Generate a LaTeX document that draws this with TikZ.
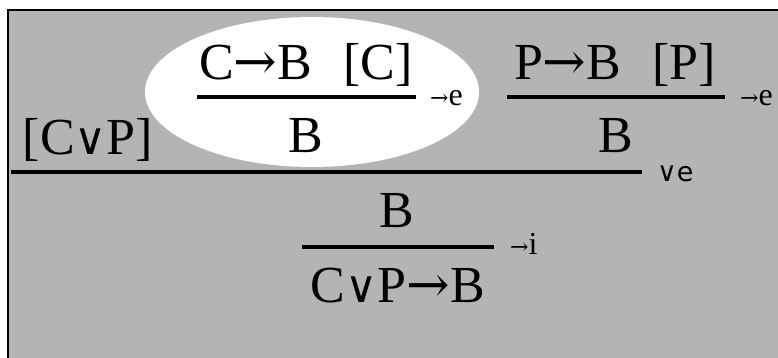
\documentclass[tikz,border=0pt]{standalone}
\usepackage{fontspec}
\setmainfont{Liberation Serif}
\newfontfamily\symf{DejaVu Serif}
\newfontfamily\labf{DejaVu Sans}
\definecolor{bggray}{RGB}{180,180,180}
\newcommand{\Or}{{\symf\fontsize{44}{46}\selectfont ∨}}
\newcommand{\LA}{{\symf\fontsize{22}{24}\selectfont →}}
\tikzset{
  formula/.style={inner sep=0pt, anchor=base, font=\fontsize{52}{56}\selectfont},
  rulelab/.style={inner sep=0pt, anchor=base west, font=\fontsize{32}{34}\selectfont},
  infrule/.style={line width=4.5pt}
}
\begin{document}
\begin{tikzpicture}[x=1pt,y=-1pt]
\useasboundingbox (0,0) rectangle (778,358);
\fill[white] (0,0) rectangle (778,358);
\fill[bggray] (8,10) rectangle (790,370);
\draw[line width=2pt] (8,370) -- (8,10) -- (790,10);
\fill[white] (312,92) ellipse [x radius=167, y radius=75];
% left subproof
\node[formula] (cb) at (306,80) {C{\symf →}B\hspace{0.6em}[C]};
\coordinate (r1a) at (197,97); \coordinate (r1b) at (416,97);
\draw[infrule] (r1a) -- (r1b);
\node[rulelab] (l1) at (430,106) {\LA e};
\node[formula] (b1) at (306,153) {B};
% right subproof
\node[formula] (pb) at (615,80) {P{\symf →}B\hspace{0.6em}[P]};
\coordinate (r3a) at (507,97); \coordinate (r3b) at (725,97);
\draw[infrule] (r3a) -- (r3b);
\node[rulelab] (l3) at (740,106) {\LA e};
\node[formula] (b2) at (616,153) {B};
% disjunction
\node[formula] (cp) at (88,155) {[C\Or P]};
\coordinate (r2a) at (11,172); \coordinate (r2b) at (642,172);
\draw[infrule] (r2a) -- (r2b);
\node[rulelab, font=\labf\fontsize{27}{29}\selectfont] (l2) at (657,181) {∨e};
% conclusion
\node[formula] (b3) at (397,227) {B};
\coordinate (r4a) at (302,247); \coordinate (r4b) at (494,247);
\draw[infrule] (r4a) -- (r4b);
\node[rulelab] (l4) at (510,254) {\LA i};
\node[formula] (res) at (398,302) {C\Or P{\symf →}B};
\end{tikzpicture}
\end{document}
